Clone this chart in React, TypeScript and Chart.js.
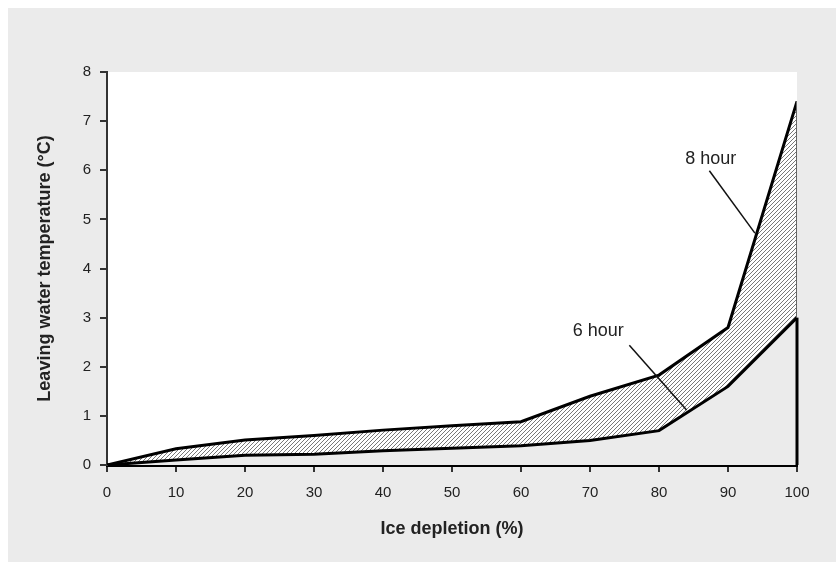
import React, { useEffect, useRef } from "react";
import { Chart, registerables } from "chart.js";

Chart.register(...registerables);

// Ice depletion (%)
const depletion = [0, 10, 20, 30, 40, 50, 60, 70, 80, 90, 100];
// Leaving water temperature (°C)
const sixHour = [0, 0.1, 0.2, 0.22, 0.29, 0.34, 0.39, 0.5, 0.7, 1.6, 3.0];
const eightHour = [0, 0.33, 0.51, 0.6, 0.71, 0.8, 0.88, 1.4, 1.83, 2.8, 7.4];

const xTitle = "Ice depletion (%)";
const yTitle = "Leaving water temperature (°C)";

// Callout labels (data coordinates)
const labelNames = ["8 hour", "6 hour"];
const labelTextX = [87.5, 71.2];
const labelTextY = [6.22, 2.72];
const leaderFromX = [87.3, 75.7];
const leaderFromY = [5.99, 2.44];
const leaderToX = [93.9, 84.0];
const leaderToY = [4.72, 1.12];

const BG = "#ebebeb";
const TICK_FONT = "'Liberation Sans Narrow', 'Liberation Sans', Arial, sans-serif";
const SANS = "'Liberation Sans', Arial, Helvetica, sans-serif";

function makeHatch(): CanvasPattern | string {
  const c = document.createElement("canvas");
  c.width = 4;
  c.height = 4;
  const ctx = c.getContext("2d");
  if (!ctx) return "#ccc";
  const img = ctx.createImageData(4, 4);
  for (let y = 0; y < 4; y++) {
    for (let x = 0; x < 4; x++) {
      const i = (y * 4 + x) * 4;
      const on = x + y === 3;
      const v = on ? 120 : 255;
      img.data[i] = v;
      img.data[i + 1] = v;
      img.data[i + 2] = v;
      img.data[i + 3] = 255;
    }
  }
  ctx.putImageData(img, 0, 0);
  return ctx.createPattern(c, "repeat") || "#ccc";
}

export default function App() {
  const ref = useRef<HTMLCanvasElement | null>(null);

  useEffect(() => {
    if (!ref.current) return;
    const hatch = makeHatch();

    const plotBg = {
      id: "plotBg",
      beforeDraw(chart: any) {
        const { ctx, chartArea } = chart;
        ctx.save();
        ctx.fillStyle = "#ffffff";
        ctx.fillRect(chartArea.left, chartArea.top, chartArea.right - chartArea.left, chartArea.bottom - chartArea.top);
        ctx.restore();
      },
    };

    const extras = {
      id: "extras",
      afterDatasetsDraw(chart: any) {
        const { ctx } = chart;
        const xs = chart.scales.x;
        const ys = chart.scales.y;
        ctx.save();
        // right edge of lower area
        const last = depletion.length - 1;
        ctx.strokeStyle = "#000";
        ctx.lineWidth = 3;
        ctx.beginPath();
        ctx.moveTo(xs.getPixelForValue(depletion[last]), ys.getPixelForValue(0));
        ctx.lineTo(xs.getPixelForValue(depletion[last]), ys.getPixelForValue(sixHour[last]));
        ctx.stroke();
        // thin edge of hatched area
        ctx.strokeStyle = "#666";
        ctx.lineWidth = 1;
        ctx.beginPath();
        ctx.moveTo(xs.getPixelForValue(depletion[last]) - 0.5, ys.getPixelForValue(sixHour[last]));
        ctx.lineTo(xs.getPixelForValue(depletion[last]) - 0.5, ys.getPixelForValue(eightHour[last]));
        ctx.stroke();
        // callouts
        ctx.strokeStyle = "#111";
        ctx.lineWidth = 1.5;
        ctx.fillStyle = "#222";
        ctx.font = "18px " + SANS;
        ctx.textAlign = "center";
        ctx.textBaseline = "middle";
        for (let i = 0; i < labelNames.length; i++) {
          ctx.beginPath();
          ctx.moveTo(xs.getPixelForValue(leaderFromX[i]), ys.getPixelForValue(leaderFromY[i]));
          ctx.lineTo(xs.getPixelForValue(leaderToX[i]), ys.getPixelForValue(leaderToY[i]));
          ctx.stroke();
          ctx.fillText(labelNames[i], xs.getPixelForValue(labelTextX[i]), ys.getPixelForValue(labelTextY[i]));
        }
        ctx.restore();
      },
    };

    const chart = new Chart(ref.current, {
      type: "line",
      data: {
        datasets: [
          {
            label: "6 hour",
            data: depletion.map((x, i) => ({ x, y: sixHour[i] })),
            borderColor: "#000",
            borderWidth: 3,
            backgroundColor: BG,
            fill: "origin",
            pointRadius: 0,
            tension: 0,
          },
          {
            label: "8 hour",
            data: depletion.map((x, i) => ({ x, y: eightHour[i] })),
            borderColor: "#000",
            borderWidth: 3,
            backgroundColor: hatch as any,
            fill: "-1",
            pointRadius: 0,
            tension: 0,
          },
        ],
      },
      options: {
        animation: false,
        responsive: true,
        maintainAspectRatio: false,
        layout: { padding: { left: 0, top: 64, right: 39, bottom: 0 } },
        plugins: { legend: { display: false }, tooltip: { enabled: false } },
        scales: {
          x: {
            type: "linear",
            min: 0,
            max: 100,
            ticks: {
              stepSize: 10,
              color: "#222",
              padding: 12,
              maxRotation: 0,
              font: { family: TICK_FONT, size: 15 },
            },
            grid: { drawOnChartArea: false, drawTicks: true, tickLength: 7, color: "#333", lineWidth: 2 },
            border: { display: true, color: "#000", width: 3 },
            title: {
              display: true,
              text: xTitle,
              color: "#222",
              font: { family: SANS, size: 18, weight: "bold" },
              padding: { top: 0, bottom: 22 },
            },
            afterFit(scale: any) {
              scale.height = 97;
            },
          },
          y: {
            type: "linear",
            min: 0,
            max: 8,
            ticks: {
              stepSize: 1,
              color: "#222",
              padding: 9,
              font: { family: TICK_FONT, size: 15 },
            },
            grid: { drawOnChartArea: false, drawTicks: true, tickLength: 7, color: "#333", lineWidth: 2 },
            border: { display: true, color: "#333", width: 2 },
            title: {
              display: true,
              text: yTitle,
              color: "#222",
              font: { family: SANS, size: 18, weight: "bold" },
              padding: { top: 26, bottom: 0 },
            },
            afterFit(scale: any) {
              scale.width = 99;
            },
          },
        },
      },
      plugins: [plotBg, extras],
    });
    return () => chart.destroy();
  }, []);

  return (
    <div style={{ position: "fixed", left: 8, top: 8, width: 828, height: 554, background: BG }}>
      <canvas ref={ref} />
    </div>
  );
}
